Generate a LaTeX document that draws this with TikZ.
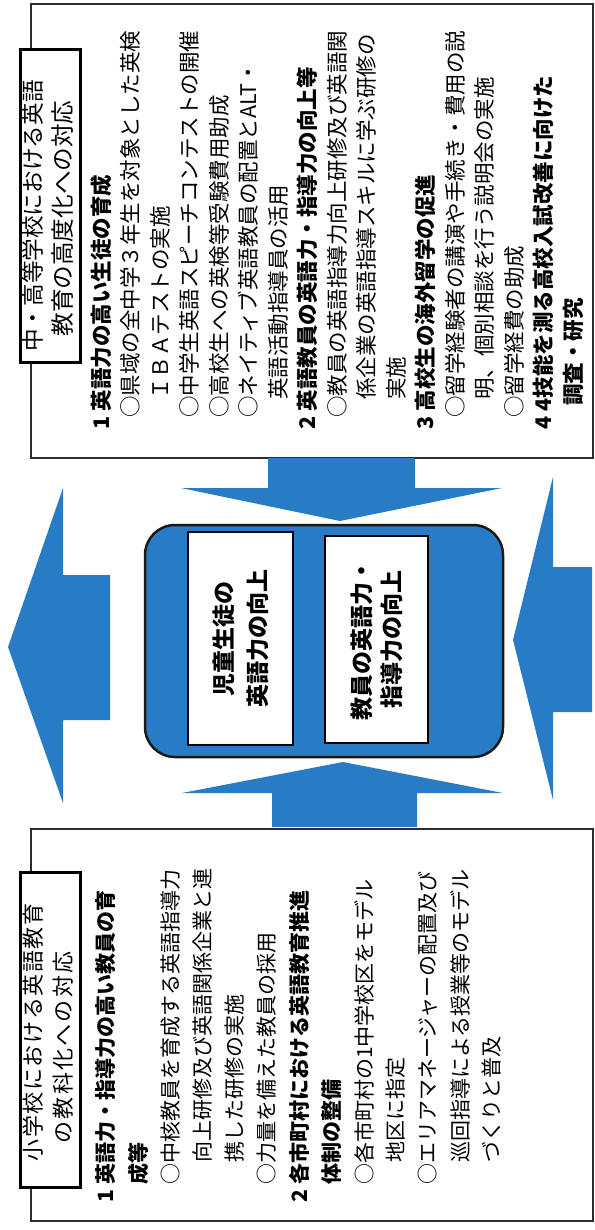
\documentclass[tikz,border=0pt]{standalone}
\usepackage{fontspec}
\newfontfamily\jp{Noto Sans CJK JP}
\newfontfamily\jpA{Noto Sans CJK JP}[LetterSpace=7]
\newfontfamily\jpB{Noto Sans CJK JP}[LetterSpace=10.5]
\definecolor{arrowblue}{RGB}{40,124,198}
\definecolor{frame}{RGB}{45,45,45}
\begin{document}
\begin{tikzpicture}[x=1pt,y=-1pt,
  rtxt/.style={rotate=90, anchor=west, inner sep=0pt, font=\jp\fontsize{21.5}{21.5}\selectfont},
  rhd/.style={rtxt, font=\jp\bfseries\fontsize{21.5}{21.5}\selectfont},
  ltxt/.style={rotate=90, anchor=west, inner sep=0pt, font=\jp\fontsize{21}{21}\selectfont},
  lhd/.style={ltxt, font=\jp\bfseries\fontsize{21}{21}\selectfont},
  panel/.style={draw=frame, line width=2.4pt},
  titlebox/.style={rotate=90, draw=black, line width=3pt, fill=white, inner sep=0pt},
  ttl/.style={rotate=90, anchor=center, inner sep=0pt},
  bigarrow/.style={fill=arrowblue},
  innerbox/.style={rotate=90, draw=black, line width=2pt, fill=white, inner sep=0pt, align=center}
]
\useasboundingbox (0,0) rectangle (594,1230);
\fill[white] (0,0) rectangle (594,1230);

% panels
\node (rpanel) [panel, anchor=north west, minimum width=562pt, minimum height=454pt, inner sep=0pt] at (30,3) {};
\node (lpanel) [panel, anchor=north west, minimum width=562pt, minimum height=392pt, inner sep=0pt] at (30,828) {};

% arrows
\fill[bigarrow] (8,647) -- (63,488) -- (63,575) -- (110,575) -- (110,720) -- (63,720) -- (63,803) -- cycle;
\fill[bigarrow] (513,640) -- (553,477) -- (553,567) -- (592,567) -- (592,712) -- (553,712) -- (553,800) -- cycle;
\fill[bigarrow] (340,521) -- (181,488) -- (268,488) -- (268,458) -- (415,458) -- (415,488) -- (502,488) -- cycle;
\fill[bigarrow] (343,762) -- (182,793) -- (272,793) -- (272,827) -- (417,827) -- (417,793) -- (503,793) -- cycle;

% center hub
\node (hub) [draw=black!90, line width=2.5pt, fill=arrowblue, rounded corners=30pt, minimum width=358pt, minimum height=232pt, inner sep=0pt] at (324,641) {};
\node (kids) [innerbox, minimum width=213pt, minimum height=105pt, font=\jp\bfseries\fontsize{23}{34}\selectfont] at (240.5,638.5) {児童生徒の\\英語力の向上};
\node (teach) [innerbox, minimum width=207pt, minimum height=103pt, font=\jp\bfseries\fontsize{23}{30}\selectfont] at (376.5,639.5) {教員の英語力・\\指導力の向上};

% right panel title
\node (rtbox) [titlebox, minimum width=312pt, minimum height=60pt] at (50,206) {};
\node (rt1) [ttl, font=\jp\fontsize{22.6}{22.6}\selectfont] at (33,216) {中・高等学校における英語};
\node (rt2) [ttl, font=\jp\fontsize{23.6}{23.6}\selectfont] at (63,218.5) {教育の高度化への対応};

% right panel body
\node (r1) [rhd] at (101,430) {1\hspace{0.25em}英語力の高い生徒の育成};
\node (r2) [rtxt] at (130.5,418) {○県域の全中学３年生を対象とした英検};
\node (r3) [rtxt] at (160,400) {ＩＢＡテストの実施};
\node (r4) [rtxt] at (189.5,418) {○中学生英語スピーチコンテストの開催};
\node (r5) [rtxt] at (219,418) {○高校生への英検等受験費用助成};
\node (r6) [rtxt] at (248.5,418) {○ネイティブ英語教員の配置とALT・};
\node (r7) [rtxt] at (278,400) {英語活動指導員の活用};
\node (r8) [rhd] at (307.5,430) {2\hspace{0.25em}英語教員の英語力・指導力の向上等};
\node (r9) [rtxt] at (337,418) {○教員の英語指導力向上研修及び英語関};
\node (r10) [rtxt] at (366.5,400) {係企業の英語指導スキルに学ぶ研修の};
\node (r11) [rtxt] at (396,400) {実施};
\node (r12) [rhd] at (425.5,430) {3\hspace{0.25em}高校生の海外留学の促進};
\node (r13) [rtxt] at (455,418) {○留学経験者の講演や手続き・費用の説};
\node (r14) [rtxt] at (484.5,400) {明、個別相談を行う説明会の実施};
\node (r15) [rtxt] at (514,418) {○留学経費の助成};
\node (r16) [rhd] at (543.5,430) {4\hspace{0.25em}4技能を測る高校入試改善に向けた};
\node (r17) [rhd] at (573,406) {調査・研究};

% left panel title
\node (ltbox) [titlebox, minimum width=315pt, minimum height=60pt] at (50,1029.5) {};
\node (lt1) [ttl, font=\jpA\fontsize{22}{22}\selectfont] at (33,1032.5) {小学校における英語教育};
\node (lt2) [ttl, font=\jpB\fontsize{22}{22}\selectfont] at (63,1047.5) {の教科化への対応};

% left panel body
\node (l1) [lhd] at (106,1203) {1\hspace{0.25em}英語力・指導力の高い教員の育};
\node (l2) [lhd] at (138,1185) {成等};
\node (l3) [ltxt] at (170.5,1185) {○中核教員を育成する英語指導力};
\node (l4) [ltxt] at (202.5,1163) {向上研修及び英語関係企業と連};
\node (l5) [ltxt] at (235,1163) {携した研修の実施};
\node (l6) [ltxt] at (267,1185) {○力量を備えた教員の採用};
\node (l7) [lhd] at (299,1203) {2\hspace{0.25em}各市町村における英語教育推進};
\node (l8) [lhd] at (331.5,1185) {体制の整備};
\node (l9) [ltxt] at (364,1185) {○各市町村の1中学校区をモデル};
\node (l10) [ltxt] at (396,1163) {地区に指定};
\node (l11) [ltxt] at (428,1185) {○エリアマネージャーの配置及び};
\node (l12) [ltxt] at (460,1163) {巡回指導による授業等のモデル};
\node (l13) [ltxt] at (492,1163) {づくりと普及};
\end{tikzpicture}
\end{document}
